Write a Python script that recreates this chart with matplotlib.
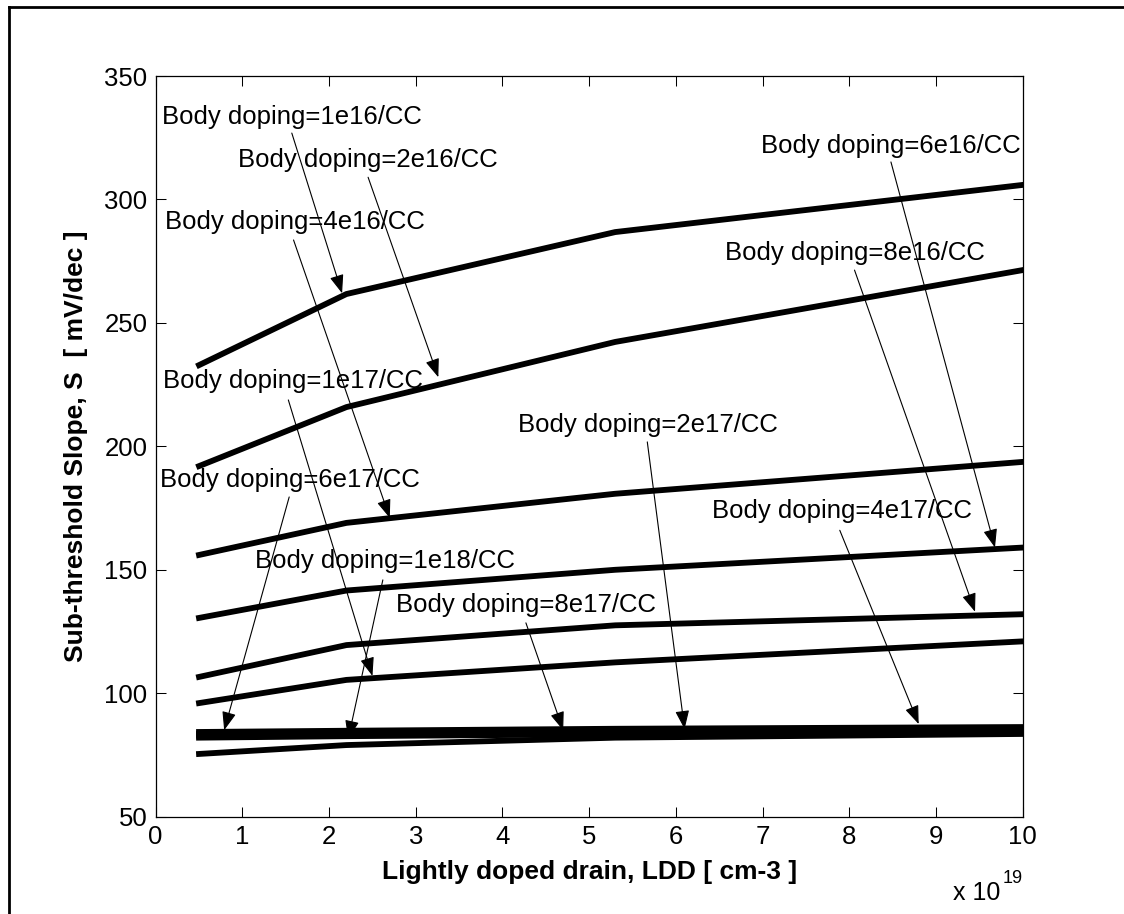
import numpy as np
import matplotlib
matplotlib.use("Agg")
import matplotlib.pyplot as plt
from matplotlib.lines import Line2D

plt.rcParams['font.family'] = ['Liberation Sans', 'DejaVu Sans']

# LDD concentration (cm-3) at the simulated points
ldd = np.array([0.5e19, 2.2e19, 5.3e19, 10e19])

# sub-threshold slope (mV/dec) for each body doping
s_1e16 = [232.9, 261.7, 286.8, 305.9]
s_2e16 = [192.0, 215.9, 242.3, 271.4]
s_4e16 = [156.0, 169.0, 180.8, 193.7]
s_6e16 = [130.5, 141.6, 150.0, 159.0]
s_8e16 = [106.6, 119.5, 127.5, 132.0]
s_1e17 = [96.0, 105.4, 112.5, 121.0]
s_2e17 = [84.3, 84.8, 85.6, 86.3]
s_4e17 = [83.6, 84.2, 85.0, 85.7]
s_6e17 = [82.8, 83.4, 84.2, 84.9]
s_8e17 = [82.0, 82.6, 83.4, 84.0]
s_1e18 = [75.4, 79.0, 82.0, 83.5]

curves = [s_1e16, s_2e16, s_4e16, s_6e16, s_8e16, s_1e17,
          s_2e17, s_4e17, s_6e17, s_8e17, s_1e18]

# text-arrow annotations: label, text anchor, arrow tail, arrow tip (x in 1e19 units)
labels = ['Body doping=1e16/CC', 'Body doping=2e16/CC', 'Body doping=4e16/CC',
          'Body doping=6e16/CC', 'Body doping=8e16/CC', 'Body doping=1e17/CC',
          'Body doping=2e17/CC', 'Body doping=4e17/CC', 'Body doping=6e17/CC',
          'Body doping=8e17/CC', 'Body doping=1e18/CC']
text_pos = [(0.07, 330.6), (0.95, 313.1), (0.11, 288.0), (6.98, 318.8),
            (6.57, 275.5), (0.09, 223.6), (4.18, 205.8), (6.42, 171.0),
            (0.05, 183.5), (2.77, 132.9), (1.145, 150.7)]
tails = [(1.57, 326.9), (2.45, 309.0), (1.59, 283.6), (8.48, 315.2),
         (8.06, 271.4), (1.53, 218.8), (5.67, 201.8), (7.89, 166.0),
         (1.54, 179.5), (4.27, 128.5), (2.62, 145.9)]
tips = [(2.15, 262.0), (3.26, 228.0), (2.70, 171.0), (9.68, 159.0),
        (9.45, 133.0), (2.50, 107.0), (6.10, 85.5), (8.80, 87.5),
        (0.79, 85.0), (4.70, 85.0), (2.22, 81.5)]

fig = plt.figure(figsize=(11.24, 9.14), dpi=100)
ax = fig.add_axes([0.1385, 0.1065, 0.7714, 0.8103])

for s in curves:
    ax.plot(ldd / 1e19, s, color='black', lw=4.2, solid_joinstyle='round')

for lab, tp, tl, tip in zip(labels, text_pos, tails, tips):
    ax.text(tp[0], tp[1], lab, fontsize=18.5, ha='left', va='baseline')
    ax.annotate('', xy=tip, xytext=tl,
                arrowprops=dict(arrowstyle='-|>,head_length=0.95,head_width=0.36',
                                mutation_scale=12, lw=0.8, color='black',
                                shrinkA=0, shrinkB=0))

ax.set_xlim(0, 10)
ax.set_ylim(50, 350)
ax.set_xticks(np.arange(0, 11, 1))
ax.set_yticks(np.arange(50, 351, 50))
ax.tick_params(direction='in', length=7, width=0.75, top=True, right=True,
               labelsize=18.5, pad=6)
for sp in ax.spines.values():
    sp.set_linewidth(0.9)

ax.set_xlabel('Lightly doped drain, LDD [ cm-3 ]', fontsize=19, fontweight='bold',
              labelpad=8)
ax.set_ylabel('Sub-threshold Slope, S  [ mV/dec ]', fontsize=19, fontweight='bold',
              labelpad=12)

# exponent for the x axis, MATLAB style
fig.text(953 / 1124, 1 - 900 / 914, 'x 10', fontsize=18, ha='left', va='baseline')
fig.text(1003 / 1124, 1 - 883 / 914, '19', fontsize=13, ha='left', va='baseline')

# figure frame
fig.add_artist(Line2D([8.7 / 1124, 8.7 / 1124], [0, 1 - 7 / 914],
                      transform=fig.transFigure, color='black', lw=2))
fig.add_artist(Line2D([8.7 / 1124, 1], [1 - 7 / 914, 1 - 7 / 914],
                      transform=fig.transFigure, color='black', lw=2))

fig.savefig('out.png', dpi=100)
